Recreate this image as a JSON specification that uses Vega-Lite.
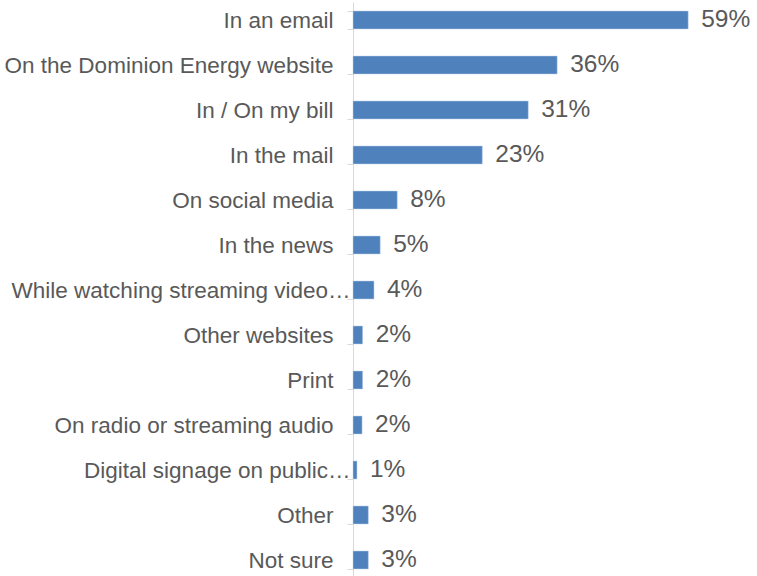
{
  "$schema": "https://vega.github.io/schema/vega-lite/v6.json",
  "autosize": {"type": "none"},
  "padding": {"left": 353, "top": 2, "right": 7, "bottom": 0},
  "width": 397,
  "height": 576,
  "background": "white",
  "config": {"view": {"stroke": null}, "font": "Liberation Sans"},
  "data": {
    "values": [
      {"channel": "In an email", "value": 59.1, "label": "59%"},
      {"channel": "On the Dominion Energy website", "value": 36, "label": "36%"},
      {"channel": "In / On my bill", "value": 30.9, "label": "31%"},
      {"channel": "In the mail", "value": 22.8, "label": "23%"},
      {"channel": "On social media", "value": 7.8, "label": "8%"},
      {"channel": "In the news", "value": 4.8, "label": "5%"},
      {"channel": "While watching streaming video…", "value": 3.7, "label": "4%"},
      {"channel": "Other websites", "value": 1.7, "label": "2%"},
      {"channel": "Print", "value": 1.7, "label": "2%"},
      {"channel": "On radio or streaming audio", "value": 1.6, "label": "2%"},
      {"channel": "Digital signage on public…", "value": 0.7, "label": "1%"},
      {"channel": "Other", "value": 2.7, "label": "3%"},
      {"channel": "Not sure", "value": 2.7, "label": "3%"}
    ]
  },
  "encoding": {
    "y": {
      "field": "channel",
      "type": "nominal",
      "sort": null,
      "scale": {"paddingInner": 0.6, "paddingOuter": 0.2},
      "axis": {
        "title": null,
        "domainColor": "#d9d9d9",
        "domainWidth": 1,
        "tickColor": "#d9d9d9",
        "tickSize": 6,
        "tickBand": "extent",
        "labelFontSize": 22.5,
        "labelColor": "#595959",
        "labelPadding": {"condition": {"test": "indexof(datum.label, '…') >= 0", "value": -3}, "value": 14},
        "labelLimit": 400
      }
    },
    "x": {
      "field": "value",
      "type": "quantitative",
      "scale": {"domain": [0, 70], "nice": false},
      "axis": null
    }
  },
  "layer": [
    {"mark": {"type": "bar", "color": "#4f81bd", "stroke": "#bcd0ea", "strokeWidth": 0.5}},
    {
      "mark": {"type": "text", "align": "left", "baseline": "middle", "dx": 13, "fontSize": 24.5, "color": "#595959"},
      "encoding": {"text": {"field": "label"}}
    }
  ]
}
